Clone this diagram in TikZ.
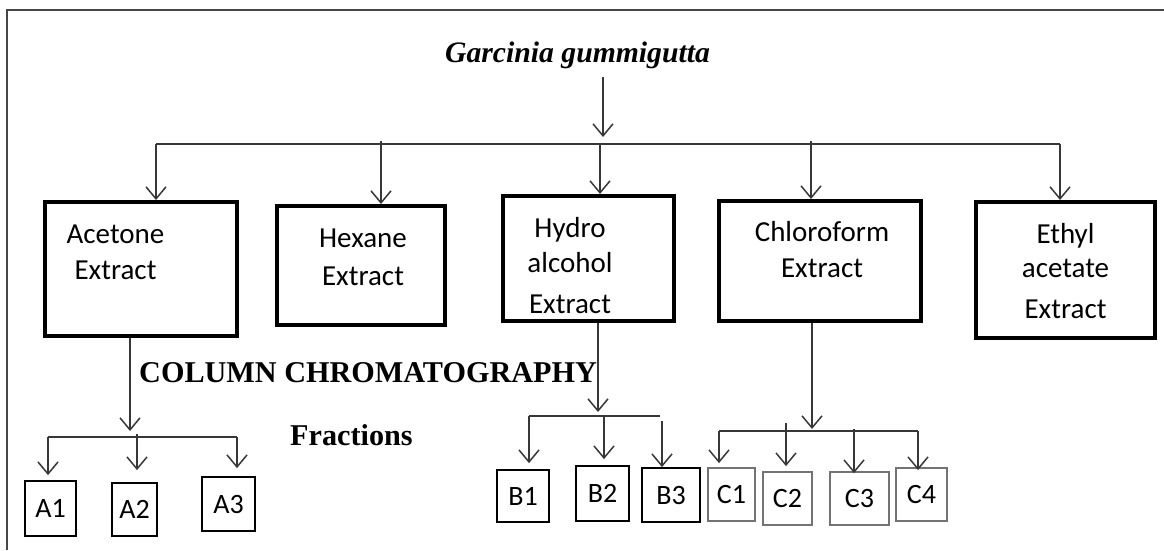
\documentclass[tikz,border=0pt]{standalone}
\usepackage{fontspec}
\setmainfont{Liberation Serif}
\newfontfamily\calibri{Carlito}
\usetikzlibrary{arrows.meta, calc}
\definecolor{linegray}{RGB}{55,55,55}
\definecolor{fracgray}{RGB}{115,115,115}
\definecolor{framegray}{RGB}{70,70,70}

\begin{document}
\begin{tikzpicture}[
  x=1pt, y=-1pt,
  box/.style={rectangle, draw=black, line width=4pt, inner sep=0pt},
  frac/.style={rectangle, draw=#1, line width=1.8pt, inner sep=0pt,
    font=\calibri\fontsize{28}{30}\selectfont},
  frac/.default=black,
  txt/.style={font=\calibri\fontsize{29}{36}\selectfont, align=center, inner sep=0pt, anchor=base},
  head/.style={inner sep=0pt, anchor=base west, font=\bfseries\fontsize{30.2}{31}\selectfont},
  arr/.style={-{Straight Barb[length=12pt, width=20pt]}, draw=linegray, line width=1.5pt},
  lnk/.style={draw=linegray, line width=1.5pt}
]
\useasboundingbox (0,0) rectangle (1164,550);
\draw[framegray, line width=2pt] (7,550) -- (7,10) -- (1164,10);

% plant and the five extracts
\node[inner sep=0pt, anchor=base, font=\bfseries\itshape\fontsize{29.7}{30}\selectfont] (title) at (577.5,62) {Garcinia gummigutta};

\node[box, minimum width=192pt, minimum height=134pt] (acet) at (141,269) {};
\node[box, minimum width=168pt, minimum height=119pt] (hex) at (361,265.5) {};
\node[box, minimum width=171pt, minimum height=125pt] (hydro) at (588.5,258.5) {};
\node[box, minimum width=202pt, minimum height=120pt] (chloro) at (820,261) {};
\node[box, minimum width=179pt, minimum height=136pt] (ethyl) at (1065.5,270) {};

% texts are placed by the baseline of their last line
\node[txt] (acet-t) at (115.5,279) {Acetone\\Extract};
\node[txt] (hex-t) at (363,285) {Hexane\\[2pt]Extract};
\node[txt] (hydro-t) at (570,313) {Hydro\\[-1pt]alcohol\\[5pt]Extract};
\node[txt] (chloro-t) at (822,277) {Chloroform\\Extract};
\node[txt] (ethyl-t) at (1065.5,318) {Ethyl\\[-2pt]acetate\\[5pt]Extract};

\node[head] (cc) at (139,382) {COLUMN CHROMATOGRAPHY};
\node[head] (fr) at (290,445) {Fractions};

% fractions
\node[frac, minimum width=51pt, minimum height=55pt] (a1) at (50.5,508.5) {A1};
\node[frac, minimum width=45pt, minimum height=53pt] (a2) at (134.5,509.5) {A2};
\node[frac, minimum width=53pt, minimum height=54pt] (a3) at (228.5,504) {A3};
\node[frac, minimum width=52pt, minimum height=52pt] (b1) at (523,496) {B1};
\node[frac, minimum width=53pt, minimum height=55pt] (b2) at (602.5,493.5) {B2};
\node[frac, minimum width=58pt, minimum height=54pt] (b3) at (671,495) {B3};
\node[frac=fracgray, minimum width=47pt, minimum height=53pt] (c1) at (731.5,494.5) {C1};
\node[frac=fracgray, minimum width=49pt, minimum height=53pt] (c2) at (787.5,498.5) {C2};
\node[frac=fracgray, minimum width=59pt, minimum height=53pt] (c3) at (859.5,498.5) {C3};
\node[frac=fracgray, minimum width=51pt, minimum height=53pt] (c4) at (921.5,494.5) {C4};

% plant to extracts
\coordinate (hub) at (603,137);
\coordinate (bus-l) at (156,144);
\coordinate (bus-r) at (1060,144);
\coordinate (hx) at (381,141);
\coordinate (hy) at (600,144);
\coordinate (ch) at (811,141);
\draw[arr, shorten <=8.5pt] (title.south -| hub) -- (hub);
\draw[lnk] (bus-l) -- (bus-r);
\draw[arr] (bus-l) -- (bus-l |- acet.north);
\draw[arr] (hx) -- (hx |- hex.north);
\draw[arr] (hy) -- (hy |- hydro.north);
\draw[arr] (ch) -- (ch |- chloro.north);
\draw[arr] (bus-r) -- (bus-r |- ethyl.north);

% acetone fractions
\coordinate (a-hub) at (130,431);
\coordinate (a-l) at (48,437);
\coordinate (a-r) at (237,437);
\coordinate (a2-top) at (137,434);
\draw[arr] (acet.south -| a-hub) -- (a-hub);
\draw[lnk] (a-l) -- (a-r);
\draw[arr, shorten >=5pt] (a-l) -- (a-l |- a1.north);
\draw[arr, shorten >=12pt] (a2-top) -- (a2-top |- a2.north);
\draw[arr, shorten >=8pt] (a-r) -- (a-r |- a3.north);

% hydro alcohol fractions
\coordinate (b-hub) at (598,412);
\coordinate (b-l) at (529,416);
\coordinate (b-r) at (660,416);
\coordinate (b2-top) at (604,416);
\coordinate (b3-top) at (662,421);
\draw[arr] (hydro.south -| b-hub) -- (b-hub);
\draw[lnk] (b-l) -- (b-r);
\draw[arr, shorten >=6pt] (b-l) -- (b-l |- b1.north);
\draw[arr, shorten >=6pt] (b2-top) -- (b2-top |- b2.north);
\draw[arr] (b3-top) -- (b3-top |- b3.north);

% chloroform fractions
\coordinate (c-hub) at (812,429);
\coordinate (c-l) at (719,431);
\coordinate (c-r) at (918,431);
\coordinate (c2-top) at (786,423);
\coordinate (c3-top) at (854,429);
\draw[arr] (chloro.south -| c-hub) -- (c-hub);
\draw[lnk] (c-l) -- (c-r);
\draw[arr, shorten >=4pt] (c-l) -- (c-l |- c1.north);
\draw[arr, shorten >=5pt] (c2-top) -- (c2-top |- c2.north);
\draw[arr, shorten >=-2pt] (c3-top) -- (c3-top |- c3.north);
\draw[arr, shorten >=-3pt] (c-r) -- (c-r |- c4.north);
\end{tikzpicture}
\end{document}
